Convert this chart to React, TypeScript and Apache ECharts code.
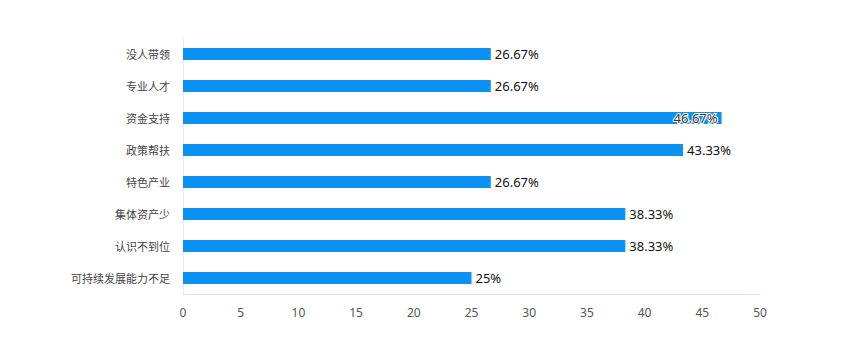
import React, { useEffect, useRef } from "react";
import * as echarts from "echarts";

const categories = ["没人带领", "专业人才", "资金支持", "政策帮扶", "特色产业", "集体资产少", "认识不到位", "可持续发展能力不足"];
const values = [26.67, 26.67, 46.67, 43.33, 26.67, 38.33, 38.33, 25];
const xTicks = { min: 0, max: 50, interval: 5 };

export default function App() {
  const ref = useRef<HTMLDivElement>(null);
  useEffect(() => {
    const chart = echarts.init(ref.current!, null, { renderer: "svg" });
    const cats = [...categories].reverse();
    const vals = [...values].reverse();
    chart.setOption({
      animation: false,
      grid: { left: 175, right: 85, top: 30, bottom: 52, containLabel: false },
      xAxis: {
        type: "value",
        min: xTicks.min,
        max: xTicks.max,
        interval: xTicks.interval,
        splitLine: { show: false },
        axisLine: { show: true, lineStyle: { color: "#dde3ea" } },
        axisTick: { show: false },
        axisLabel: { color: "#555", fontSize: 12, margin: 12, fontFamily: "Noto Sans" },
      },
      yAxis: {
        type: "category",
        data: cats,
        axisLine: { show: true, lineStyle: { color: "#e6ebf0" } },
        axisTick: { show: false },
        axisLabel: { color: "#444", fontSize: 11, margin: 13, fontFamily: "Noto Sans CJK SC" },
      },
      series: [
        {
          type: "bar",
          barWidth: 12,
          itemStyle: { color: "#0a91f2" },
          label: {
            show: true,
            position: "right",
            distance: 4,
            color: "#111",
            fontSize: 13,
            fontFamily: "Noto Sans",
            formatter: (p: any) => p.value + "%",
          },
          data: vals.map((v) =>
            v === Math.max(...values)
              ? {
                  value: v,
                  label: {
                    position: "insideRight",
                    distance: 4,
                    color: "#333",
                    textBorderColor: "#fff",
                    textBorderWidth: 2,
                  },
                }
              : v
          ),
        },
      ],
    });
    return () => chart.dispose();
  }, []);
  return <div ref={ref} style={{ width: 837, height: 338 }} />;
}
